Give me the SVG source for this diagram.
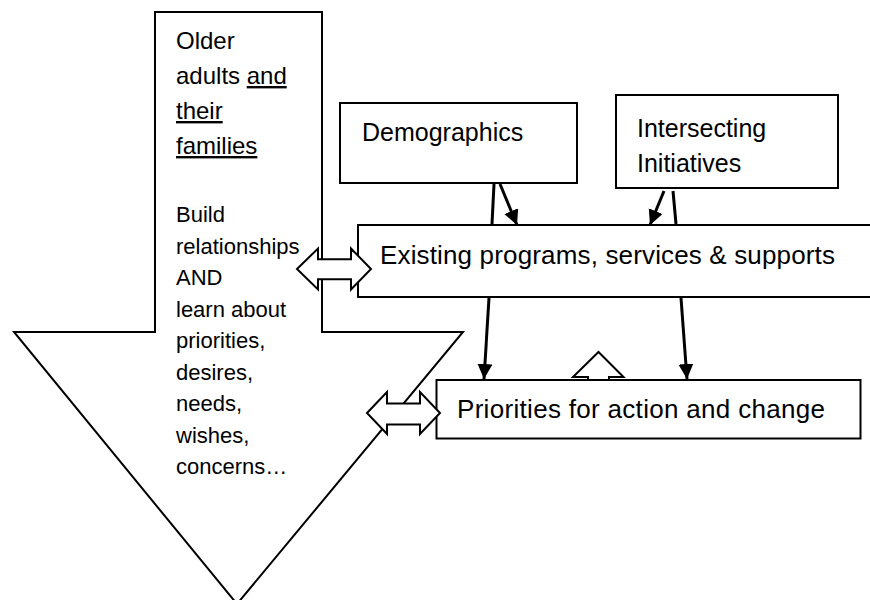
<svg xmlns="http://www.w3.org/2000/svg" width="870" height="600" viewBox="0 0 870 600">
<style>
.shape{fill:#fff;stroke:#000;stroke-width:2}
.blk{fill:#fff;stroke:#000;stroke-width:2;stroke-linejoin:miter}
.ln{fill:none;stroke:#000;stroke-width:3}
.big{font-family:"Liberation Sans",Arial,sans-serif;font-size:24px;fill:#000}
.sm{font-family:"Liberation Sans",Arial,sans-serif;font-size:22px;fill:#000}
.lbl{font-family:"Liberation Sans",Arial,sans-serif;font-size:25px;fill:#000}
.lbl2{font-family:"Liberation Sans",Arial,sans-serif;font-size:26px;fill:#000}
</style>
<defs>
<marker id="ah" markerUnits="userSpaceOnUse" markerWidth="16" markerHeight="16" refX="15" refY="7.5" orient="auto" viewBox="0 0 16 16">
<path d="M0,0 L15,7.5 L0,15 z" fill="#000"/>
</marker>
</defs>
<rect width="870" height="600" fill="#fff"/>
<g id="older-adults">
<polygon class="shape" points="155,12 322,12 322,332 463,332 237,604 14,332 155,332"/>
<text class="big" x="176" y="49">Older</text>
<text class="big" x="176" y="84">adults <tspan text-decoration="underline">and</tspan></text>
<text class="big" x="176" y="119" text-decoration="underline">their</text>
<text class="big" x="176" y="154" text-decoration="underline">families</text>
<text class="sm" x="176" y="222">Build</text>
<text class="sm" x="176" y="253.5">relationships</text>
<text class="sm" x="176" y="285">AND</text>
<text class="sm" x="176" y="316.5">learn about</text>
<text class="sm" x="176" y="348">priorities,</text>
<text class="sm" x="176" y="379.5">desires,</text>
<text class="sm" x="176" y="411">needs,</text>
<text class="sm" x="176" y="442.5">wishes,</text>
<text class="sm" x="176" y="474">concerns…</text>
</g>
<g id="demographics">
<rect class="shape" x="340" y="103" width="237" height="80"/>
<text class="lbl" x="362" y="141">Demographics</text>
</g>
<g id="intersecting">
<rect class="shape" x="616" y="95" width="222" height="93"/>
<text class="lbl" x="637" y="137">Intersecting</text>
<text class="lbl" x="637" y="172">Initiatives</text>
</g>
<g id="existing">
<rect class="shape" x="358" y="225" width="530" height="72"/>
<text class="lbl2" x="380" y="264" textLength="455">Existing programs, services &amp; supports</text>
</g>
<g id="priorities">
<rect class="shape" x="436.5" y="380" width="424" height="58.5"/>
<text class="lbl2" x="457" y="418" textLength="368">Priorities for action and change</text>
</g>
<g id="connectors">
<path class="ln" d="M494,184 L492,224"/>
<path class="ln" d="M489,298 L484,379" marker-end="url(#ah)"/>
<path class="ln" d="M500,184 L517,225" marker-end="url(#ah)"/>
<path class="ln" d="M664,191 L650,225" marker-end="url(#ah)"/>
<path class="ln" d="M673,191 L676,224"/>
<path class="ln" d="M681,298 L687,379" marker-end="url(#ah)"/>
<polygon class="blk" points="297,269 318,248.5 318,259.3 351,259.3 351,248.5 371,269 351,289.5 351,279.3 318,279.3 318,289.5"/>
<polygon class="blk" points="367,413 387,392 387,403.5 420,403.5 420,392 440,413 420,434 420,424.5 387,424.5 387,434"/>
<path class="blk" d="M588,379 V377 H573 L598.5,352 L623.5,377 H609 V379"/>
</g>
</svg>
